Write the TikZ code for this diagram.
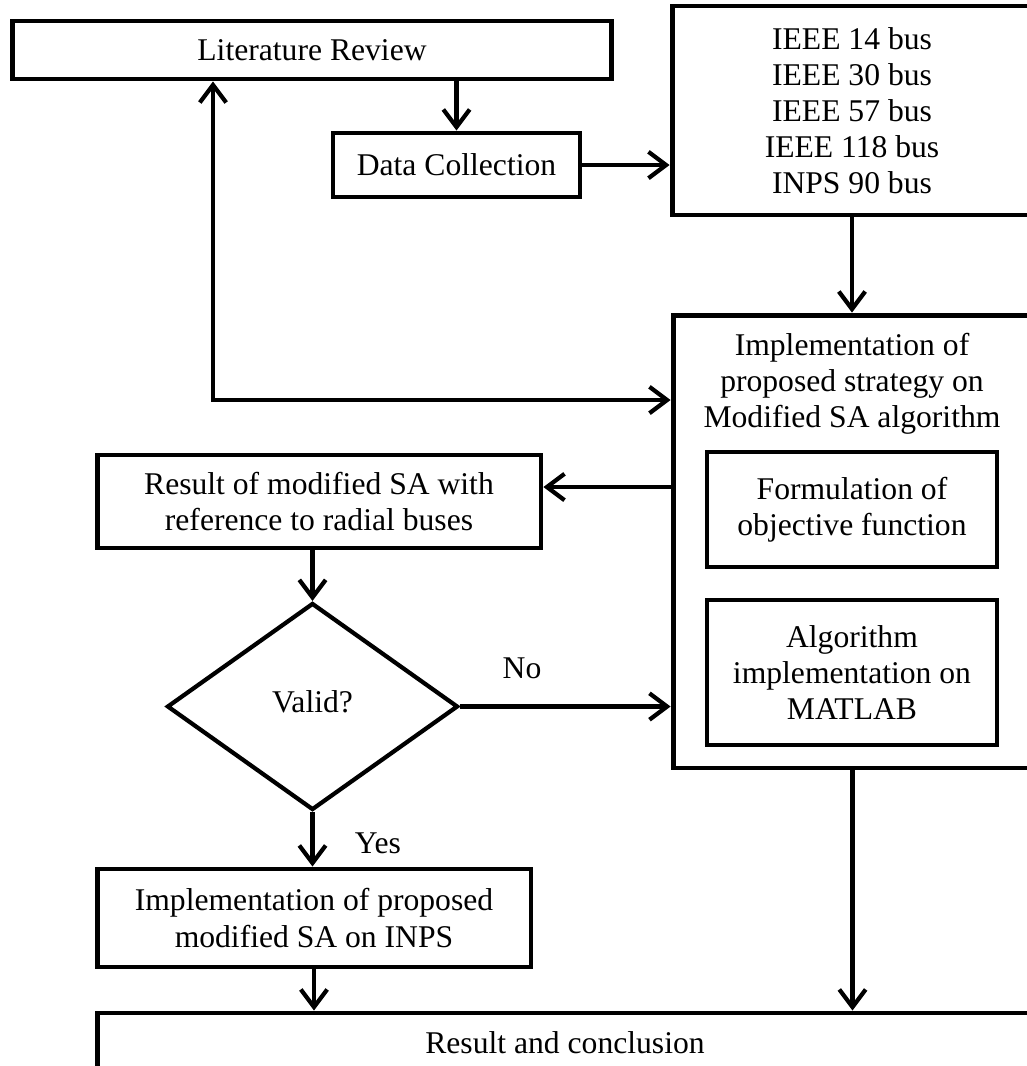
\documentclass[tikz,border=0pt]{standalone}
\usepackage{fontspec}
\setmainfont{Liberation Serif}
\usetikzlibrary{arrows.meta,shapes.geometric}

\begin{document}
\begin{tikzpicture}[x=0.02cm, y=-0.02cm,
        every node/.style={font=\fontsize{18pt}{20.5pt}\selectfont, align=center},
        box/.style={draw=black, line width=2.8pt, rectangle, inner sep=0pt},
        decision/.style={draw=black, line width=2.4pt, diamond, inner sep=0pt,
            minimum width=5.82cm, minimum height=4.14cm},
        arr/.style={line width=2.4pt, -{Straight Barb[length=10pt, width=15pt]}},
        twoarr/.style={line width=2.4pt, {Straight Barb[length=10pt, width=15pt]}-{Straight Barb[length=10pt, width=15pt]}},
        lbl/.style={inner sep=0pt}]

    % Page frame
    \useasboundingbox (0,0) rectangle (1027,1066);
    \clip (0,0) rectangle (1027,1066);

    % Top row
    \node[box, minimum width=12cm, minimum height=1.16cm] (lit) at (312,50) {Literature Review};
    \node[box, minimum width=4.94cm, minimum height=1.28cm] (data) at (456.5,165) {Data Collection};
    \node[box, minimum width=7.2cm, minimum height=4.18cm] (ieee) at (852,110.5)
        {IEEE 14 bus\\IEEE 30 bus\\IEEE 57 bus\\IEEE 118 bus\\INPS 90 bus};

    % Implementation block with its two sub-steps
    \node[box, minimum width=7.18cm, minimum height=9.06cm] (impl) at (852.5,541.5) {};
    \node[lbl] (impltitle) at (852,384)
        {Implementation of\\proposed strategy on\\Modified SA algorithm};
    \node[box, minimum width=5.8cm, minimum height=2.3cm] (form) at (852,509.5)
        {Formulation of\\objective function};
    \node[box, minimum width=5.8cm, minimum height=2.9cm] (alg) at (852,672.5)
        {Algorithm\\implementation on\\MATLAB};

    % Left column
    \node[box, minimum width=8.88cm, minimum height=1.86cm] (res) at (319,501.5)
        {Result of modified SA with\\reference to radial buses};
    \node[decision] (valid) at (312.5,706.5) {\raisebox{0.18cm}{Valid?}};
    \node[box, minimum width=8.68cm, minimum height=1.96cm] (impl2) at (314,918)
        {Implementation of proposed\\modified SA on INPS};
    \node[box, minimum width=18.72cm, minimum height=1.2cm] (concl) at (565,1043)
        {Result and conclusion};

    % Connectors
    \coordinate (fb) at (213,400);
    \draw[arr] (lit.south -| data.north) -- (data.north);
    \draw[arr] (data.east) -- (data.east -| ieee.west);
    \draw[arr] (ieee.south) -- (ieee.south |- impl.north);
    \draw[twoarr] (lit.south -| fb) -- (fb) -- (fb -| impl.west);
    \draw[arr] ([yshift=0.29cm]res.east -| impl.west) -- ([yshift=0.29cm]res.east);
    \draw[arr] (res.south -| valid.north) -- (valid.north);
    \draw[arr] (valid.east) -- (valid.east -| impl.west);
    \draw[arr] (valid.south) -- (valid.south |- impl2.north);
    \draw[arr] (impl2.south) -- (impl2.south |- concl.north);
    \draw[arr] (impl.south) -- (impl.south |- concl.north);

    % Branch labels
    \node[lbl] (no) at (522,668) {No};
    \node[lbl] (yes) at (378,843) {Yes};
\end{tikzpicture}
\end{document}
